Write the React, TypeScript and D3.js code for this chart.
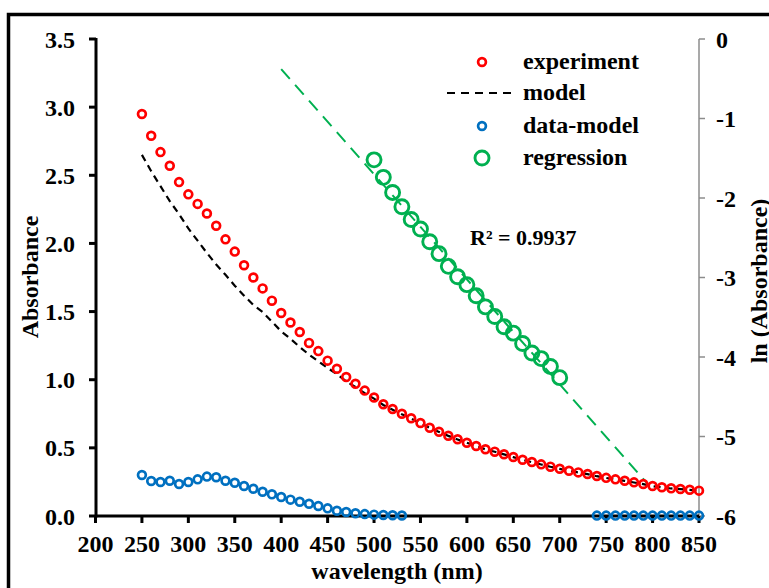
import React from "react";
import * as d3 from "d3";

const wavelengths = [250,260,270,280,290,300,310,320,330,340,350,360,370,380,390,400,410,420,430,440,450,460,470,480,490,500,510,520,530,540,550,560,570,580,590,600,610,620,630,640,650,660,670,680,690,700,710,720,730,740,750,760,770,780,790,800,810,820,830,840,850];

const experiment = [2.95,2.79,2.67,2.57,2.45,2.36,2.29,2.22,2.13,2.03,1.94,1.84,1.75,1.67,1.58,1.49,1.42,1.35,1.27,1.21,1.14,1.08,1.02,0.97,0.92,0.87,0.82,0.785,0.75,0.717,0.682,0.648,0.618,0.589,0.563,0.538,0.514,0.49,0.472,0.453,0.433,0.413,0.396,0.379,0.362,0.347,0.332,0.32,0.308,0.293,0.28,0.269,0.259,0.247,0.235,0.22,0.211,0.203,0.198,0.193,0.186];

const model = [2.65,2.53,2.42,2.31,2.215,2.11,2.02,1.93,1.845,1.77,1.69,1.617,1.548,1.497,1.426,1.355,1.30,1.24,1.184,1.135,1.086,1.04,0.988,0.946,0.901,0.861,0.815,0.78,0.746,0.715,0.681,0.647,0.617,0.588,0.562,0.537,0.513,0.489,0.471,0.452,0.432,0.412,0.395,0.378,0.361,0.346,0.331,0.319,0.307,0.292,0.279,0.268,0.258,0.246,0.234,0.219,0.21,0.202,0.197,0.192,0.185];

const dmWavelengths = [250,260,270,280,290,300,310,320,330,340,350,360,370,380,390,400,410,420,430,440,450,460,470,480,490,500,510,520,530,740,750,760,770,780,790,800,810,820,830,840,850];
const dataModel = [0.301,0.257,0.249,0.259,0.235,0.249,0.269,0.289,0.284,0.259,0.244,0.22,0.2,0.178,0.159,0.139,0.12,0.105,0.09,0.073,0.056,0.039,0.029,0.02,0.014,0.01,0.007,0.005,0.004,0.003,0.003,0.003,0.003,0.003,0.003,0.003,0.003,0.003,0.003,0.003,0.003];

const regWavelengths = [500,510,520,530,540,550,560,570,580,590,600,610,620,630,640,650,660,670,680,690,700];
const regression = [-1.52,-1.74,-1.93,-2.11,-2.27,-2.39,-2.55,-2.70,-2.86,-2.99,-3.09,-3.23,-3.37,-3.49,-3.62,-3.70,-3.83,-3.95,-4.02,-4.12,-4.26];

const fitWavelengths = [400, 795];
const fitValues = [-0.38, -5.6];

const xTicks = [200,250,300,350,400,450,500,550,600,650,700,750,800,850];
const yLeftTicks = [0,0.5,1.0,1.5,2.0,2.5,3.0,3.5];
const yRightTicks = [0,-1,-2,-3,-4,-5,-6];

const RED = "#FF0000";
const BLUE = "#0070C0";
const GREEN = "#00B050";
const FONT = "'Liberation Serif', 'Times New Roman', serif";

export default function App() {
  const x = d3.scaleLinear().domain([200, 850]).range([95.5, 699]);
  const yL = d3.scaleLinear().domain([0, 3.5]).range([516, 39]);
  const yR = d3.scaleLinear().domain([-6, 0]).range([516, 39]);

  const modelLine = d3.line<number>().x((_, i) => x(wavelengths[i])).y((d) => yL(d));
  const fitLine = d3.line<number>().x((_, i) => x(fitWavelengths[i])).y((d) => yR(d));

  const fs = 24;
  const textStyle: React.CSSProperties = { fontFamily: FONT, fontWeight: "bold", fontSize: fs };

  return (
    <svg width={769} height={588} style={{ position: "absolute", left: 0, top: 0, background: "#fff" }}>
      <rect x={0} y={0} width={769} height={588} fill="#fff" />
      <rect x={8.5} y={14.5} width={800} height={600} fill="none" stroke="#000" strokeWidth={3.5} />

      {/* right axis */}
      <line x1={699} x2={699} y1={yR(0)} y2={yR(-6)} stroke="#8c8c8c" strokeWidth={1.5} />
      {yRightTicks.map((t) => (
        <g key={"rt" + t}>
          <line x1={699} x2={705} y1={yR(t)} y2={yR(t)} stroke="#8c8c8c" strokeWidth={1.5} />
          <text x={716} y={yR(t)} dy="0.36em" style={textStyle}>{t === 0 ? "0" : "-" + Math.abs(t)}</text>
        </g>
      ))}

      {/* left axis */}
      <line x1={96} x2={96} y1={yL(3.5) - 1} y2={yL(0) + 1.5} stroke="#000" strokeWidth={3} />
      {yLeftTicks.map((t) => (
        <g key={"lt" + t}>
          <line x1={89} x2={96} y1={yL(t)} y2={yL(t)} stroke="#000" strokeWidth={3} />
          <text x={75} y={yL(t)} dy="0.36em" textAnchor="end" style={textStyle}>{t.toFixed(1)}</text>
        </g>
      ))}

      {/* x axis */}
      <line x1={95} x2={699} y1={516} y2={516} stroke="#000" strokeWidth={3} />
      {xTicks.map((t) => (
        <g key={"xt" + t}>
          <line x1={x(t)} x2={x(t)} y1={516} y2={523} stroke="#000" strokeWidth={3} />
          <text x={x(t)} y={552} textAnchor="middle" style={textStyle}>{t}</text>
        </g>
      ))}

      {/* titles */}
      <text x={397} y={579} textAnchor="middle" style={textStyle}>wavelength (nm)</text>
      <text transform="translate(38,277) rotate(-90)" textAnchor="middle" style={textStyle}>Absorbance</text>
      <text transform="translate(767,281) rotate(-90)" textAnchor="middle" style={textStyle}>ln (Absorbance)</text>

      {/* fit line */}
      <path d={fitLine(fitValues) || ""} fill="none" stroke={GREEN} strokeWidth={2} strokeDasharray="13,8" />

      {/* model */}
      <path d={modelLine(model) || ""} fill="none" stroke="#000" strokeWidth={2.2} strokeDasharray="7,5" />

      {/* experiment */}
      {experiment.map((v, i) => (
        <circle key={"e" + i} cx={x(wavelengths[i])} cy={yL(v)} r={3.9} fill="none" stroke={RED} strokeWidth={2.7} />
      ))}

      {/* data-model */}
      {dataModel.map((v, i) => (
        <circle key={"d" + i} cx={x(dmWavelengths[i])} cy={yL(v)} r={3.9} fill="none" stroke={BLUE} strokeWidth={2.7} />
      ))}

      {/* regression */}
      {regression.map((v, i) => (
        <circle key={"r" + i} cx={x(regWavelengths[i])} cy={yR(v)} r={7} fill="none" stroke={GREEN} strokeWidth={2.9} />
      ))}

      <text x={470} y={245} style={{ ...textStyle, fontSize: 22 }}>R² = 0.9937</text>

      {/* legend */}
      <circle cx={482} cy={62} r={3.9} fill="none" stroke={RED} strokeWidth={2.7} />
      <text x={523} y={62} dy="0.3em" style={textStyle}>experiment</text>
      <line x1={447} x2={511} y1={93} y2={93} stroke="#000" strokeWidth={2.2} strokeDasharray="8,6" />
      <text x={523} y={93} dy="0.3em" style={textStyle}>model</text>
      <circle cx={482} cy={126} r={3.9} fill="none" stroke={BLUE} strokeWidth={2.7} />
      <text x={523} y={126} dy="0.3em" style={textStyle}>data-model</text>
      <circle cx={482} cy={158} r={7} fill="none" stroke={GREEN} strokeWidth={2.9} />
      <text x={523} y={158} dy="0.3em" style={textStyle}>regression</text>
    </svg>
  );
}
